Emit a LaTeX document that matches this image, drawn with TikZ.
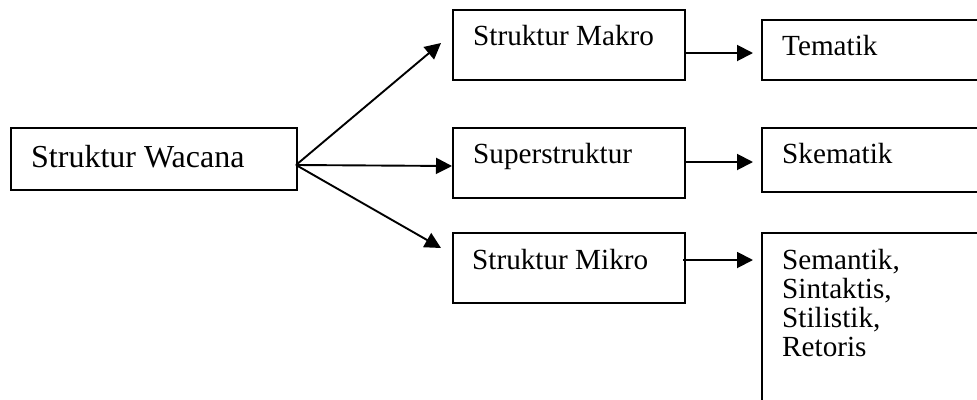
\documentclass[tikz,border=0pt]{standalone}
\usepackage{fontspec}
\setmainfont{Liberation Serif}
\usetikzlibrary{arrows.meta}
\tikzset{
  box/.style={draw, line width=1.9pt, rectangle, inner sep=0pt, anchor=north west},
  lbl/.style={anchor=base west, inner sep=0pt, font=\fontsize{29.2}{29}\selectfont},
  biglbl/.style={anchor=base west, inner sep=0pt, font=\fontsize{32}{38}\selectfont},
  arr/.style={line width=1.9pt, -{Triangle[length=16pt,width=16pt]}},
}
\begin{document}
\begin{tikzpicture}[x=1pt,y=-1pt]
\useasboundingbox (0,0) rectangle (977,399);
\clip (0,0) rectangle (977,399);

% boxes
\node[box, minimum width=286pt, minimum height=62pt] (wacana) at (10,127) {};
\node[box, minimum width=232pt, minimum height=70pt] (makro) at (452,9) {};
\node[box, minimum width=232pt, minimum height=70pt] (super) at (452,127) {};
\node[box, minimum width=232pt, minimum height=70pt] (mikro) at (452,232) {};
\node[box, minimum width=240pt, minimum height=60pt] (tematik) at (761,19) {};
\node[box, minimum width=240pt, minimum height=64pt] (skematik) at (761,127) {};
\node[box, minimum width=240pt, minimum height=200pt] (semantik) at (761,232) {};

% labels
\node[biglbl] (twacana) at (31,167) {Struktur Wacana};
\node[lbl] (tmakro) at (473,45) {Struktur Makro};
\node[lbl] (tsuper) at (473,163) {Superstruktur};
\node[lbl] (tmikro) at (472,269) {Struktur Mikro};
\node[lbl] (ttematik) at (782,55) {Tematik};
\node[lbl] (tskematik) at (782,163) {Skematik};
\node[lbl, align=left, anchor=north west] (tsemantik) at (782,249) {Semantik,\\Sintaktis,\\Stilistik,\\Retoris};

% connector ends
\coordinate (fan) at (296,165);
\coordinate (makroin) at (441,43);
\coordinate (superin) at (452,166);
\coordinate (mikroin) at (441,248);
\coordinate (makroout) at (684,53);
\coordinate (tematikin) at (753,53);
\coordinate (superout) at (684,162);
\coordinate (skematikin) at (753,162);
\coordinate (mikroout) at (683,260);
\coordinate (semantikin) at (753,260);

\draw[arr] (fan) -- (makroin);
\draw[arr] (fan) -- (superin);
\draw[arr] (fan) -- (mikroin);
\draw[arr] (makroout) -- (tematikin);
\draw[arr] (superout) -- (skematikin);
\draw[arr] (mikroout) -- (semantikin);
\end{tikzpicture}
\end{document}
